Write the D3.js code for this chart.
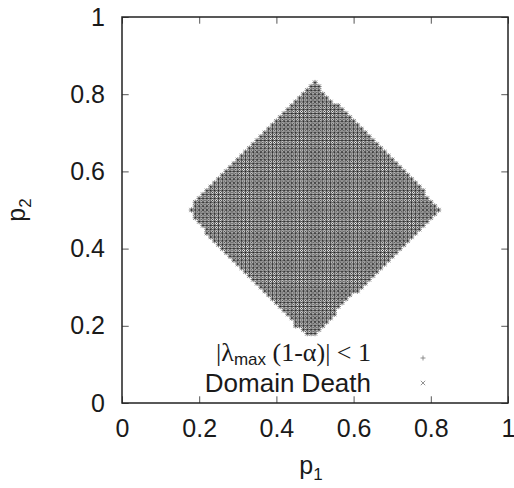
<!DOCTYPE html>
<html>
<head>
<meta charset="utf-8">
<script src="https://cdn.jsdelivr.net/npm/d3@7"></script>
<style>
  body { margin: 0; background: #fff; }
  text { font-family: "Liberation Sans", Arial, Helvetica, sans-serif; fill: #1a1a1a; }
</style>
</head>
<body>
<div id="chart"></div>
<script>
const width = 514;
const height = 488;

// axis ticks
const p1Ticks = [0, 0.2, 0.4, 0.6, 0.8, 1];
const p2Ticks = [0, 0.2, 0.4, 0.6, 0.8, 1];

// sampled grid of (p1, p2)
const gridValues = d3.range(0, 101).map(i => i / 100);

// outline of the region where points were found
const boundaryP1 = [0.500, 0.528, 0.550, 0.576, 0.602, 0.632, 0.658, 0.688, 0.710, 0.740, 0.766, 0.783, 0.809, 0.825,
  0.800, 0.779, 0.749, 0.723, 0.697, 0.671, 0.645, 0.619, 0.589, 0.563, 0.541, 0.516, 0.500,
  0.484, 0.454, 0.433, 0.407, 0.381, 0.355, 0.329, 0.307, 0.277, 0.251, 0.230, 0.208, 0.191, 0.175,
  0.195, 0.217, 0.234, 0.264, 0.290, 0.312, 0.342, 0.364, 0.381, 0.411, 0.437, 0.463, 0.490];
const boundaryP2 = [0.835, 0.800, 0.780, 0.755, 0.730, 0.703, 0.677, 0.651, 0.625, 0.600, 0.573, 0.547, 0.521, 0.500,
  0.478, 0.453, 0.427, 0.401, 0.375, 0.349, 0.323, 0.297, 0.271, 0.245, 0.219, 0.194, 0.175,
  0.175, 0.194, 0.219, 0.245, 0.271, 0.297, 0.323, 0.349, 0.375, 0.401, 0.427, 0.453, 0.478, 0.500,
  0.530, 0.556, 0.573, 0.599, 0.625, 0.651, 0.677, 0.699, 0.720, 0.746, 0.772, 0.798, 0.825];

const boundary = boundaryP1.map((p, i) => [p, boundaryP2[i]]);
const points = [];
gridValues.forEach(a => {
  gridValues.forEach(b => {
    if (d3.polygonContains(boundary, [a, b])) points.push([a, b]);
  });
});

const margin = {left: 122, right: 6, top: 17, bottom: 85};
const x = d3.scaleLinear().domain([0, 1]).range([margin.left, width - margin.right]);
const y = d3.scaleLinear().domain([0, 1]).range([height - margin.bottom, margin.top]);

const svg = d3.select('#chart').append('svg')
    .attr('width', width)
    .attr('height', height);

const tickLen = 6.7;
const fmt = d => String(d);

const plusPath = 'M-2.7,0H2.7M0,-2.7V2.7';
const crossPath = 'M-2.1,-2.1L2.1,2.1M-2.1,2.1L2.1,-2.1';

// |lambda_max (1-alpha)| < 1
svg.append('g').selectAll('path').data(points).join('path')
    .attr('transform', d => `translate(${x(d[0])},${y(d[1])})`)
    .attr('d', plusPath)
    .attr('stroke', '#111')
    .attr('stroke-width', 0.55)
    .attr('fill', 'none');

// Domain Death
svg.append('g').selectAll('path').data(points).join('path')
    .attr('transform', d => `translate(${x(d[0])},${y(d[1])})`)
    .attr('d', crossPath)
    .attr('stroke', '#111')
    .attr('stroke-width', 0.55)
    .attr('fill', 'none');

// axes with inward ticks on all four sides
const axBottom = svg.append('g')
    .attr('transform', `translate(0,${y(0)})`)
    .call(d3.axisBottom(x).tickValues(p1Ticks).tickFormat(fmt).tickSizeInner(-tickLen).tickSizeOuter(0).tickPadding(16));
const axLeft = svg.append('g')
    .attr('transform', `translate(${x(0)},0)`)
    .call(d3.axisLeft(y).tickValues(p2Ticks).tickFormat(fmt).tickSizeInner(-tickLen).tickSizeOuter(0).tickPadding(17));
const axTop = svg.append('g')
    .attr('transform', `translate(0,${y(1)})`)
    .call(d3.axisTop(x).tickValues(p1Ticks).tickFormat('').tickSizeInner(-tickLen).tickSizeOuter(0));
const axRight = svg.append('g')
    .attr('transform', `translate(${x(1)},0)`)
    .call(d3.axisRight(y).tickValues(p2Ticks).tickFormat('').tickSizeInner(-tickLen).tickSizeOuter(0));

[axBottom, axLeft, axTop, axRight].forEach(g => {
  g.select('.domain').remove();
  g.selectAll('line').attr('stroke', '#555').attr('stroke-width', 1);
  g.selectAll('text').attr('font-size', 25).attr('fill', '#1a1a1a')
      .attr('font-family', '"Liberation Sans", Arial, sans-serif');
});

svg.append('rect')
    .attr('x', x(0)).attr('y', y(1))
    .attr('width', x(1) - x(0)).attr('height', y(0) - y(1))
    .attr('fill', 'none')
    .attr('stroke', '#222')
    .attr('stroke-width', 1.5);

// axis labels
const xl = svg.append('text')
    .attr('x', 311).attr('y', 474)
    .attr('text-anchor', 'middle')
    .attr('font-size', 25);
xl.append('tspan').text('p');
xl.append('tspan').attr('font-size', 17).attr('dy', 6).text('1');

const yl = svg.append('text')
    .attr('transform', 'translate(25,210) rotate(-90)')
    .attr('text-anchor', 'middle')
    .attr('font-size', 25);
yl.append('tspan').text('p');
yl.append('tspan').attr('font-size', 17).attr('dy', 6).text('2');

// key
const serif = '"Liberation Serif", "Times New Roman", serif';
const k1 = svg.append('text')
    .attr('x', 371).attr('y', 361)
    .attr('text-anchor', 'end')
    .attr('font-size', 25);
k1.append('tspan').attr('font-family', serif).attr('font-size', 26).text('|λ');
k1.append('tspan').attr('font-size', 17).attr('dy', 4).text('max');
k1.append('tspan').attr('font-family', serif).attr('dy', -4).attr('font-size', 26).text(' (1-α)| < 1');

svg.append('text')
    .attr('x', 371).attr('y', 392)
    .attr('text-anchor', 'end')
    .attr('font-size', 26)
    .text('Domain Death');

svg.append('path')
    .attr('transform', `translate(423,358)`)
    .attr('d', 'M-2.5,0H2.5M0,-2.5V2.5')
    .attr('stroke', '#777').attr('stroke-width', 0.8).attr('fill', 'none');
svg.append('path')
    .attr('transform', `translate(423,383)`)
    .attr('d', 'M-2.2,-2.2L2.2,2.2M-2.2,2.2L2.2,-2.2')
    .attr('stroke', '#777').attr('stroke-width', 0.8).attr('fill', 'none');
</script>
</body>
</html>
